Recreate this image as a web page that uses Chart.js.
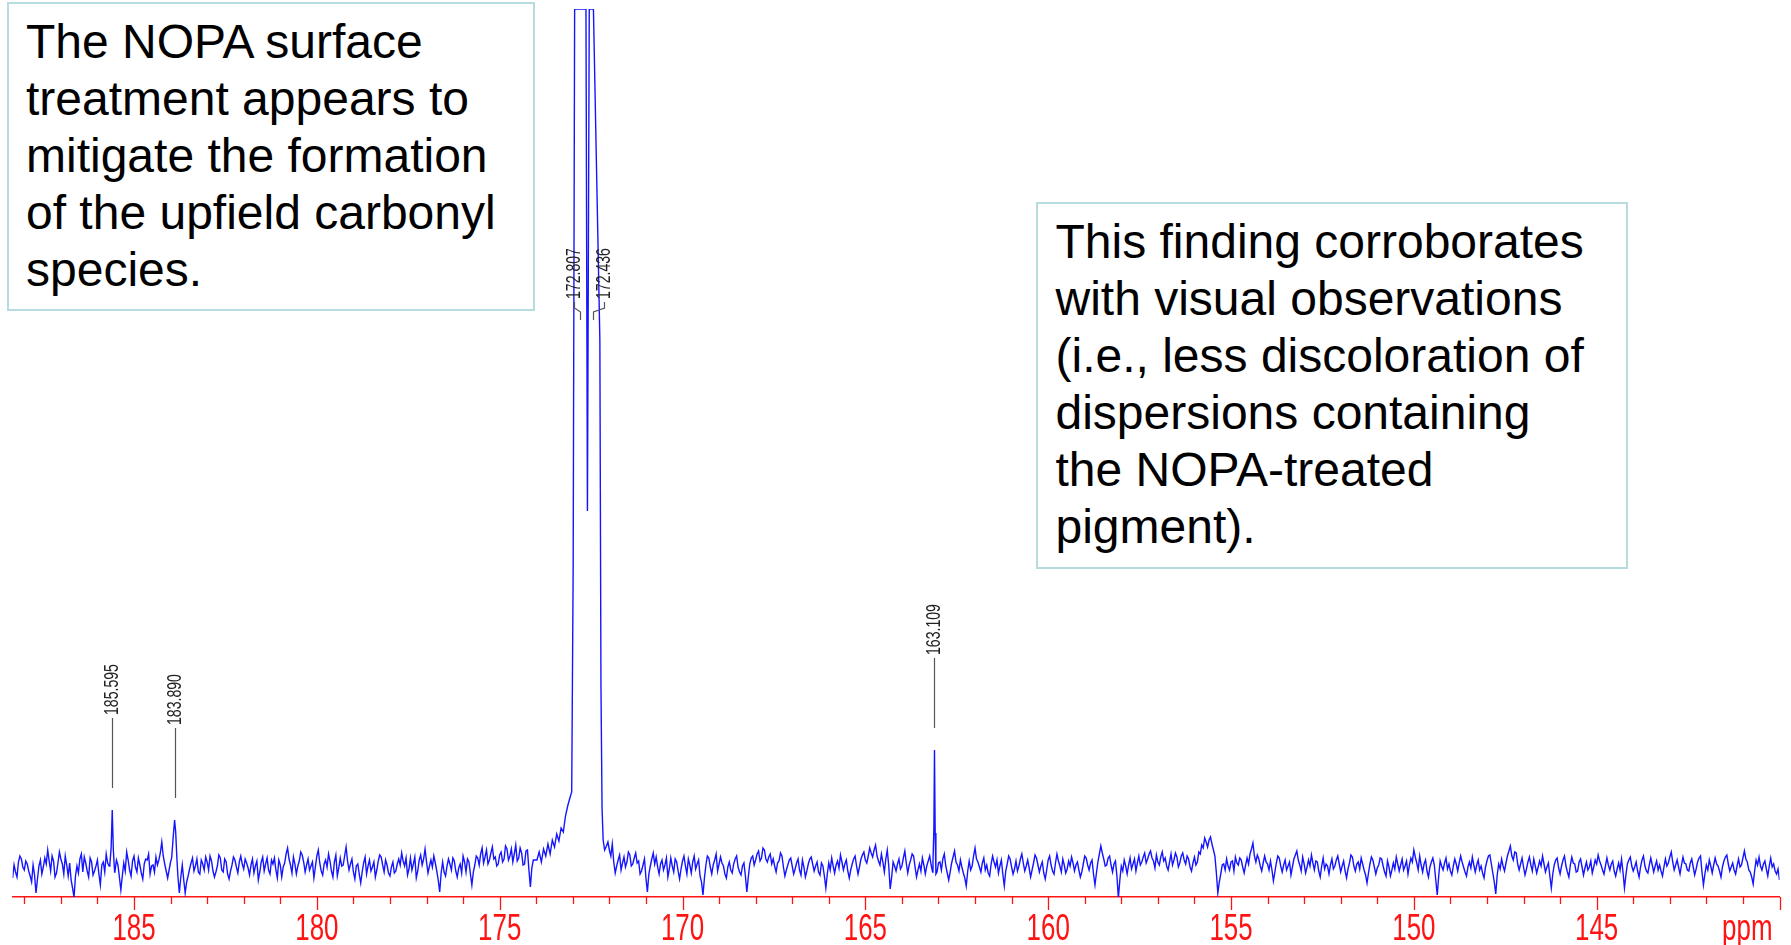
<!DOCTYPE html>
<html>
<head>
<meta charset="utf-8">
<script src="https://cdn.jsdelivr.net/npm/chart.js@4.4.1/dist/chart.umd.min.js"></script>
<style>
  html, body { margin: 0; padding: 0; background: #fff; }
  #wrap { position: relative; width: 1791px; height: 945px; overflow: hidden; }
  #spec { position: absolute; left: 0; top: 0; }
  .note {
    position: absolute; box-sizing: border-box; border: 2px solid #b6dce0; background: #fff;
    font-family: 'Liberation Sans', Arial, sans-serif; font-size: 48px; line-height: 57px;
    color: #000; white-space: pre;
  }
  #note1 { left: 7px; top: 2px; width: 528px; height: 309px; padding: 9px 0 0 17px; }
  #note2 { left: 1036px; top: 202px; width: 592px; height: 367px; padding: 9px 0 0 17.5px; }
</style>
</head>
<body>
<div id="wrap">
  <canvas id="spec" width="1791" height="945"></canvas>
  <div class="note" id="note1">The NOPA surface
treatment appears to
mitigate the formation
of the upfield carbonyl
species.</div>
  <div class="note" id="note2">This finding corroborates
with visual observations
(i.e., less discoloration of
dispersions containing
the NOPA-treated
pigment).</div>
</div>
<script>
// 13C spectrum, carbonyl region, intensities in plot units (baseline = 0)
var STEP = 0.04;
var LEFT_START = 188.32;
var RIGHT_START = 172.08;
var Y_MIN = -29;
var Y_MAX = 859;

// baseline, 188.32 -> 174.08 ppm
var noiseLeft = [
  -10, 3, -4, -9, 6, 12, 9, 1, -2, 7, 4, -3, -8, -14, 3, -7, -25, -11, 2, 8,
  -6, 1, 10, 4, 18, 7, -3, 12, 7, -9, -5, 5, 16, 9, 4, -6, 12, 3, -8, 5,
  -12, -20, -29, -8, 2, -5, 9, 14, -4, 11, 5, -3, -9, 10, 6, -7, -3, 2, 8, -6,
  -17, 3, 6, -4, 14, 5, 2, 0, 0, 0, -3, 8, 3, -9, -22, -8, 5, -3, 16, 8,
  -2, -8, 7, 12, 1, -4, 10, 3, -5, -11, 4, 9, 8, 14, -6, 2, 3, -4, 11, 3,
  8, 15, 26, 12, 4, -3, -10, -2, 6, 0, 0, 0, 0, -10, -25, -9, 3, -12, -25, -14,
  -8, -1, 5, 10, -3, 2, 9, -4, -6, 8, 4, -2, 11, 6, -2, 12, 7, -3, -9, -4,
  2, 13, 10, -2, -4, 9, 6, -6, -11, -3, 3, 11, 8, 1, -5, 6, 12, 4, -1, 9,
  5, 0, -7, 3, 9, -5, 2, 7, -12, -4, 6, 11, -3, 4, 10, -2, -6, 8, 4, 10,
  -2, -10, 8, 3, -9, 1, 5, 14, 20, 9, 3, -5, 11, 4, -6, 2, 7, 16, 13, 6,
  -4, 3, 9, -2, 2, 6, -10, 1, 12, 18, 5, -3, -7, 4, 8, 1, 14, 7, -3, -9,
  6, 13, -8, 0, 10, 2, 3, 12, 21, 7, -2, 4, 9, -4, -11, 2, 4, -6, -15, -4,
  5, 11, -6, 2, 8, -3, 1, 6, -9, -2, 7, 13, 11, 3, -4, 8, 3, -5, -8, 1,
  6, -5, -3, 4, 9, 3, 15, 7, 2, 10, -7, -1, 10, -2, 4, 11, -10, -3, 8, 13,
  3, 9, 19, 6, -5, 2, 8, 1, 12, 5, -3, -12, -24, -5, 6, -4, -8, 2, 9, 4,
  -2, 10, 7, -3, -9, 0, 4, -5, 12, 6, -4, 9, 6, -6, -17, -4, 3, 12, 10, 3,
  14, 20, 5, 11, 18, 4, 8, 15, 21, 9, 11, 2, 4, 13, 16, 6, 9, 22, 19, 8,
  12, 19, 6, 14, 23, 7, 10, 20, 15, 3, 4, 17, 18, -2, -19, 0, 8
];

// baseline, 172.08 -> 140.00 ppm
var noiseRight = [
  22, 26, 18, 12, 24, 6, -5, 2, 8, 13, -2, 5, 11, 1,
  6, 16, 13, 2, 4, 10, 15, 5, 7, -6, -3, 3, 9, -10, -24, -6, 2, 9, 15, 4,
  11, 1, -6, 4, 8, -2, 3, 10, -9, -1, 10, 2, -4, 9, 6, -3, -11, -1, 7, 12,
  2, -6, 9, 3, -5, 6, 12, -1, 4, 8, -8, -14, -27, -10, 3, 12, 10, 1, -6, 3,
  8, 14, -3, 4, 11, 5, 2, -6, -10, 1, 6, -2, -5, 4, 9, 12, 1, -4, -7, 2,
  5, -8, -24, -9, 4, 10, 12, 3, 8, 14, 17, 7, 10, 20, 18, 9, 6, 11, 14, 4,
  9, 2, -4, 5, 7, 15, 12, 1, -8, -2, 3, 8, 10, 2, -6, -1, 5, 9, -2, -7,
  8, 1, -9, -3, 4, 9, 11, 4, -3, 2, 6, -4, -7, 5, 2, -8, -20, -6, 5, -2,
  10, 2, -5, 3, 7, 0, 13, 6, -2, 4, 8, -3, -10, -2, 4, 9, 12, 2, -6, 1,
  9, 13, 16, 8, 5, 12, 20, 15, 11, 18, 23, 12, 7, 3, 14, 6, -4, 9, 18, 2,
  -21, -9, 6, 2, -3, 4, 9, -1, 2, 10, 17, 5, -5, 3, 8, 14, 12, 1, -9, -2,
  4, -3, 10, 3, -6, 2, 7, 12, 3, -4, 0, 0, -4, 5, 6, -2, 9, 14, 2, -5,
  -12, -4, 5, 11, 17, 6, 3, -3, 8, 1, -5, -10, -18, -3, 7, -2, 2, 12, 20, 9,
  6, 1, -4, 5, 10, -2, 3, -5, -8, 4, 12, 6, 1, 8, -5, 2, 8, -6, -18, -3,
  4, 12, 9, 1, -6, -1, 7, -3, 2, 9, 14, 5, -3, 2, 8, 0, -9, -2, 5, 13,
  10, 3, -4, 2, 6, -5, -11, -2, 8, 12, 3, -3, -6, 5, 14, 7, 2, -4, 9, 3,
  -5, -1, 7, 2, 11, 5, -3, 3, 6, -2, -9, -4, 4, 12, 10, 3, -2, 5, 8, -6,
  -17, -5, 6, 14, 22, 15, 9, 2, 3, 10, 12, 3, -4, 4, 7, -8, -30, -12, 2, -3,
  8, 2, -6, 3, 10, -1, 4, 9, -3, 5, 12, 3, 6, 11, 15, 5, 9, 14, 17, 10,
  7, 0, 13, 6, 3, 11, 16, 7, 10, 2, -2, 6, 14, 3, 8, 15, 11, 1, 5, 12,
  15, 8, 4, 12, 9, 1, -3, 5, 11, 3, 6, 16, 14, 23, 20, 30, 26, 21, 28, 31,
  24, 18, 12, -5, -25, -14, -6, 3, 4, -2, 9, 2, -2, 6, 7, -3, 11, 5, 3, 10,
  8, 1, -5, 3, 10, 4, 14, 19, 25, 12, 6, 13, 9, 2, -3, 5, 12, 6, 4, -2,
  7, -2, -13, -4, 5, 12, 10, 2, -4, 3, 8, -2, 2, 6, -7, 1, 9, 13, 17, 8,
  3, -3, 11, 4, -5, 1, 8, 2, 13, 5, -2, 7, 6, -3, -9, 2, 10, -1, 4, 2,
  -6, 3, 9, -1, 2, 8, 12, 4, -4, 2, 7, -3, -10, -1, 5, 13, 11, 2, -3, 4,
  6, -1, 10, 4, -2, -7, -15, -5, 4, 11, 8, 1, -6, 0, 3, 10, 9, 2, -4, -8,
  7, 1, -8, -2, 5, -1, 11, 4, -3, 3, 9, -2, 2, 7, -6, 3, 10, 6, 18, 11,
  5, -2, 12, 3, -4, 4, 8, -3, -9, 1, 6, 10, 3, -12, -27, -8, 7, 2, -2, 5,
  10, -1, 4, -3, -7, 2, 9, 4, -3, 5, 12, 6, 1, -4, -8, 1, 6, 0, 11, 3,
  -4, 3, 8, -2, 2, -5, -10, 1, 7, 12, 13, 4, -5, -14, -26, -7, 4, -1, 9, 2,
  -3, 5, 12, 17, 22, 12, 8, 16, 15, 4, -2, 4, 10, 1, -7, -1, 6, 11, 3, -3,
  9, 2, -5, 1, 7, 2, 12, 4, -4, 1, 5, -8, -20, -6, 3, 8, 10, 0, -6, 2,
  8, 12, 2, -4, -9, 3, 11, 5, 4, -4, -3, 6, 9, 1, -7, 0, 6, -2, 1, 7,
  -5, 1, 8, 4, 13, 7, 3, -2, -6, 2, 10, 3, -2, 4, 7, -3, -8, -1, 5, -2,
  9, -4, -20, -7, 4, 8, 11, 2, -3, 1, 6, -3, -9, 1, 8, 12, 2, -3, -5, 3,
  10, 3, -4, 2, 7, -2, 3, -3, -8, 1, 9, 2, 5, 11, 16, 6, -2, 3, 8, 1,
  -6, 3, 11, 5, 4, -2, -3, 5, 9, 1, -7, -1, 6, 10, 12, -4, -17, -6, 3, -2,
  8, 2, -5, 3, 10, 4, 2, -3, -9, 1, 7, 11, 13, 4, -3, 1, 5, -2, -6, 2,
  9, 1, 3, 10, 17, 9, 6, -2, -4, -9, -16, -3, 8, 3, 11, 2, -2, 4, 7, -1,
  -8, 2, 10, 1, 4, -3, -6, -1, -12
];

// resolved signals
var peak185Ppm = [185.66, 185.625, 185.595, 185.565, 185.53];
var peak185Int = [4, 20, 58, 18, -4];
var peak184Ppm = [183.97, 183.93, 183.89, 183.86, 183.83, 183.80];
var peak184Int = [10, 30, 48, 36, 12, -8];
var peak173Ppm = [173.98, 173.92, 173.86, 173.80, 173.74, 173.68, 173.62, 173.56, 173.50, 173.44,
                  173.38, 173.32, 173.26, 173.20, 173.14, 173.08, 173.03, 172.99, 172.95, 172.807,
                  172.64, 172.60, 172.55, 172.436, 172.26, 172.23, 172.20, 172.17, 172.13];
var peak173Int = [8, 16, 6, 19, 12, 24, 14, 28, 21, 34,
                  27, 40, 36, 52, 62, 70, 76, 300, 859, 859,
                  859, 357, 859, 859, 528, 183, 60, 28, 18];
var peak163Ppm = [163.15, 163.125, 163.109, 163.09, 163.07];
var peak163Int = [6, 40, 118, 35, -6];

var pickedPpm = [185.595, 183.890, 172.807, 172.436, 163.109];
var axisLabels = [185, 180, 175, 170, 165, 160, 155, 150, 145];

var AXIS_RED = '#ff1414';
var FONT = "'Liberation Sans', Arial, sans-serif";

var clusters = [
  [peak185Ppm, peak185Int],
  [peak184Ppm, peak184Int],
  [peak173Ppm, peak173Int],
  [peak163Ppm, peak163Int]
];

function inCluster(ppm) {
  return clusters.some(function (c) {
    var p = c[0];
    return ppm <= p[0] && ppm >= p[p.length - 1];
  });
}

var points = [];
noiseLeft.forEach(function (v, i) {
  points.push({ x: +(LEFT_START - i * STEP).toFixed(3), y: v });
});
noiseRight.forEach(function (v, i) {
  points.push({ x: +(RIGHT_START - i * STEP).toFixed(3), y: v });
});
points = points.filter(function (p) { return !inCluster(p.x); });
clusters.forEach(function (c) {
  c[0].forEach(function (ppm, i) { points.push({ x: ppm, y: c[1][i] }); });
});
points.sort(function (a, b) { return b.x - a.x; });

function peakTop(ppm) {
  for (var k = 0; k < clusters.length; k++) {
    var idx = clusters[k][0].indexOf(ppm);
    if (idx >= 0) return clusters[k][1][idx];
  }
  return 0;
}

// condensed text: squeeze along the writing direction
function narrowText(ctx, text, x, y, squeeze, align, angle) {
  ctx.save();
  ctx.translate(x, y);
  if (angle) ctx.rotate(angle);
  ctx.scale(squeeze, 1);
  ctx.textAlign = align;
  ctx.fillText(text, 0, 0);
  ctx.restore();
}

// axis ticks and labels, unit and peak-pick annotations
var decor = {
  id: 'decor',
  afterDatasetsDraw: function (chart) {
    var ctx = chart.ctx, xs = chart.scales.x, ys = chart.scales.y, area = chart.chartArea;
    ctx.save();

    ctx.strokeStyle = AXIS_RED;
    ctx.lineWidth = 1.3;
    for (var v = Math.ceil(xs.min); v <= Math.floor(xs.max); v++) {
      var tx = Math.round(xs.getPixelForValue(v)) + 0.5;
      var len = v % 5 === 0 ? 13 : 7;
      ctx.beginPath();
      ctx.moveTo(tx, area.bottom);
      ctx.lineTo(tx, area.bottom + len);
      ctx.stroke();
    }

    ctx.fillStyle = AXIS_RED;
    ctx.font = '36px ' + FONT;
    ctx.textBaseline = 'alphabetic';
    axisLabels.forEach(function (v) {
      narrowText(ctx, String(v), xs.getPixelForValue(v), area.bottom + 43, 0.72, 'center');
    });
    narrowText(ctx, 'ppm', area.right - 7, area.bottom + 43, 0.72, 'right');

    ctx.font = '21px ' + FONT;
    ctx.textBaseline = 'middle';
    ctx.lineWidth = 1.2;
    var pairSide = 0;
    pickedPpm.forEach(function (ppm) {
      var px = Math.round(xs.getPixelForValue(ppm)) + 0.5;
      var top = peakTop(ppm);
      var lx, textEnd;
      ctx.strokeStyle = '#555';
      ctx.beginPath();
      if (top >= Y_MAX) {
        // off-scale pair: labels pushed apart, joined by a bent lead
        lx = px + (pairSide === 0 ? -6 : 11);
        pairSide++;
        textEnd = area.top + 290;
        ctx.moveTo(lx, textEnd + 3);
        ctx.lineTo(lx, textEnd + 9);
        ctx.lineTo(px, textEnd + 13);
        ctx.lineTo(px, textEnd + 21);
      } else {
        lx = px;
        var lineBottom = ys.getPixelForValue(top) - 22;
        var lineTop = lineBottom - 70;
        ctx.moveTo(px, lineBottom);
        ctx.lineTo(px, lineTop);
        textEnd = lineTop - 3;
      }
      ctx.stroke();
      ctx.fillStyle = '#222';
      narrowText(ctx, ppm.toFixed(3), lx, textEnd, 0.67, 'left', -Math.PI / 2);
    });

    ctx.restore();
  }
};

new Chart(document.getElementById('spec'), {
  type: 'line',
  data: {
    datasets: [{
      data: points,
      borderColor: '#1414ff',
      borderWidth: 1.4,
      pointRadius: 0,
      tension: 0,
      fill: false
    }]
  },
  options: {
    responsive: false,
    animation: false,
    parsing: false,
    normalized: true,
    layout: { padding: { left: 12.6, right: 11.5, top: 9, bottom: 48 } },
    plugins: {
      legend: { display: false },
      tooltip: { enabled: false }
    },
    scales: {
      x: {
        type: 'linear',
        reverse: true,
        min: 140.0,
        max: 188.32,
        grid: { display: false, drawTicks: false },
        border: { display: true, color: AXIS_RED, width: 1.5 },
        ticks: { display: false }
      },
      y: { display: false, min: Y_MIN, max: Y_MAX }
    }
  },
  plugins: [decor]
});
</script>
</body>
</html>
